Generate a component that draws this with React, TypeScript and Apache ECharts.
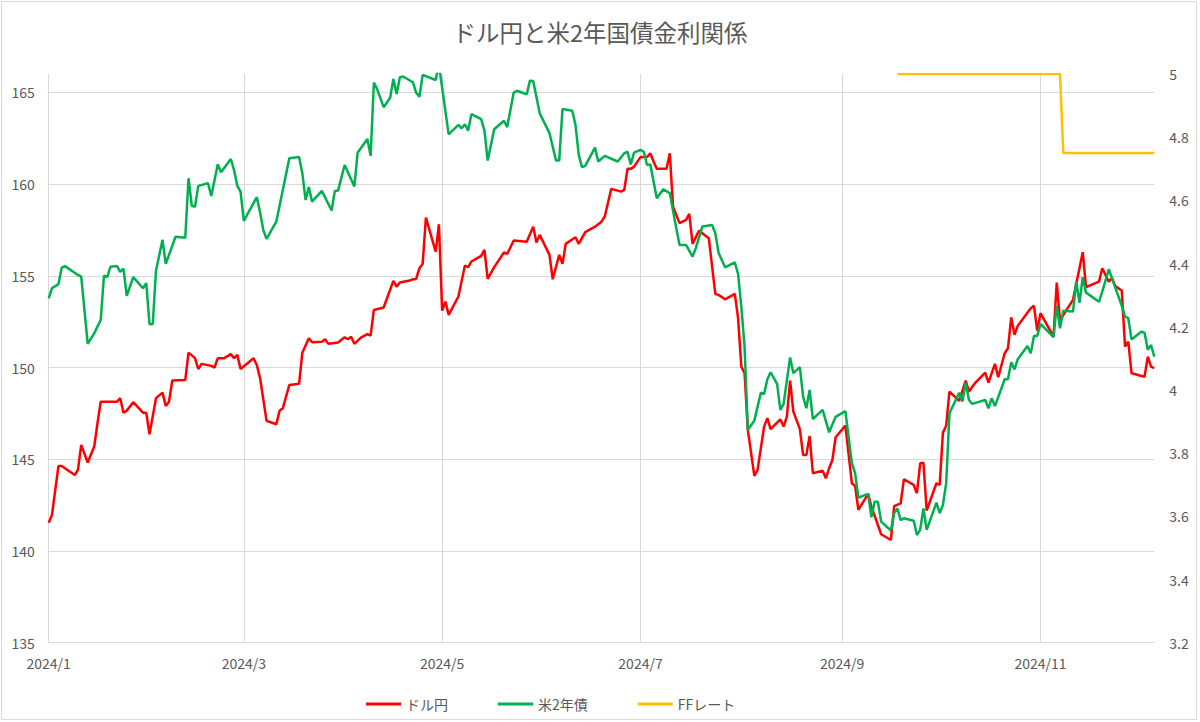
import React, { useEffect, useRef } from "react";
import * as echarts from "echarts";

const TITLE = "ドル円と米2年国債金利関係";
const SERIES_NAMES = ["ドル円", "米2年債", "FFレート"];
const COLORS = ["#FF0000", "#00B050", "#FFC000"];

// ドル円 (left axis)
const usdJpyDates = [
  "01-01","01-02","01-04","01-05","01-09","01-10","01-11","01-13","01-15","01-16","01-17","01-22","01-23","01-24","01-25","01-27","01-30","01-31",
  "02-01","02-03","02-05","02-06","02-07","02-08","02-12","02-13","02-15","02-16","02-17","02-20","02-21","02-22","02-24","02-26","02-27","02-28","02-29",
  "03-04","03-05","03-06","03-08","03-11","03-12","03-13","03-15","03-18","03-19","03-21","03-22","03-25","03-26","03-27","03-30",
  "04-01","04-02","04-03","04-04","04-06","04-08","04-09","04-10","04-13","04-16","04-17","04-18","04-21","04-22","04-23","04-24","04-25","04-26","04-29","04-30",
  "05-01","05-02","05-03","05-06","05-08","05-09","05-10","05-13","05-14","05-15","05-17","05-20","05-21","05-23","05-27","05-29","05-30","05-31",
  "06-03","06-04","06-06","06-07","06-08","06-11","06-12","06-14","06-17","06-19","06-20","06-22","06-25","06-26","06-27","06-28","06-29",
  "07-01","07-03","07-04","07-05","07-06","07-09","07-10","07-11","07-13","07-15","07-16","07-17","07-19","07-22","07-24","07-25","07-27","07-30","07-31",
  "08-01","08-02","08-03","08-05","08-06","08-08","08-09","08-10","08-13","08-14","08-15","08-16","08-17","08-19","08-20","08-21","08-22","08-23","08-26","08-27","08-28","08-29","08-30",
  "09-02","09-04","09-05","09-06","09-09","09-10","09-13","09-16","09-17","09-19","09-20","09-23","09-24","09-25","09-26","09-27","09-30",
  "10-01","10-02","10-03","10-04","10-07","10-09","10-10","10-12","10-15","10-16","10-18","10-19","10-21","10-22","10-23","10-24","10-25","10-29","10-30","10-31",
  "11-01","11-05","11-06","11-07","11-09","11-11","11-14","11-15","11-19","11-20","11-22","11-23","11-24","11-26","11-27","11-28","11-29",
  "12-03","12-04","12-05","12-06",
];
const usdJpyValues = [
  141.54,141.96,144.63,144.63,144.14,144.42,145.78,144.82,145.69,146.96,148.14,148.14,148.33,147.54,147.65,148.11,147.54,147.54,
  146.36,148.33,148.63,147.91,148.14,149.29,149.32,150.81,150.51,149.92,150.2,150.09,150.0,150.51,150.51,150.73,150.51,150.69,149.92,
  150.51,150.14,149.42,147.09,146.91,147.65,147.78,149.05,149.11,150.81,151.6,151.38,151.41,151.54,151.29,151.36,
  151.65,151.54,151.68,151.29,151.63,151.82,151.74,153.14,153.27,154.72,154.41,154.63,154.74,154.81,154.83,155.41,155.65,158.17,156.32,157.81,
  153.1,153.59,152.87,153.87,155.56,155.47,155.78,156.09,156.41,154.83,155.47,156.27,156.19,156.92,156.86,157.68,156.81,157.23,
  156.14,154.81,156.14,155.65,156.74,157.1,156.74,157.38,157.68,157.95,158.23,159.74,159.59,159.68,160.83,160.83,160.95,
  161.47,161.47,161.68,161.23,160.83,160.83,161.68,158.77,157.87,158.05,158.37,156.74,157.46,157.05,154.01,153.96,153.72,154.01,152.69,
  150.05,149.69,146.6,144.09,144.42,146.78,147.24,146.64,147.18,146.78,147.32,149.29,147.6,146.64,145.23,145.23,146.27,144.24,144.38,143.96,144.51,144.96,146.2,
  146.83,143.69,143.54,142.24,143.11,142.42,140.91,140.6,142.45,142.6,143.91,143.6,143.15,144.78,144.81,142.2,143.69,
  143.6,146.45,146.83,148.69,148.18,149.29,148.69,149.18,149.72,149.18,150.2,149.47,150.78,151.05,152.74,151.78,152.27,153.23,153.36,152.01,
  152.96,151.68,154.63,152.56,153.14,153.69,156.29,154.38,154.68,155.41,154.68,154.87,154.45,154.19,151.14,151.41,149.69,
  149.5,150.59,150.05,149.96,
];

// 米2年債 (right axis)
const ust2yDates = [
  "01-01","01-02","01-04","01-05","01-06","01-10","01-11","01-13","01-15","01-17","01-18","01-19","01-20","01-22","01-23","01-24","01-25","01-27","01-30","01-31",
  "02-01","02-02","02-03","02-05","02-06","02-09","02-12","02-13","02-14","02-15","02-16","02-19","02-20","02-22","02-23","02-26","02-27","02-28","02-29",
  "03-01","03-05","03-06","03-07","03-08","03-11","03-13","03-15","03-18","03-19","03-20","03-21","03-22","03-25","03-28","03-29","03-30",
  "04-01","04-04","04-05","04-08","04-09","04-10","04-11","04-13","04-15","04-16","04-17","04-18","04-19","04-22","04-23","04-24","04-25","04-29","04-30",
  "05-03","05-06","05-07","05-08","05-09","05-10","05-13","05-14","05-15","05-17","05-20","05-21","05-23","05-24","05-27","05-28","05-29","05-31",
  "06-03","06-05","06-06","06-07","06-10","06-11","06-12","06-13","06-14","06-17","06-18","06-20","06-24","06-26","06-27","06-28","06-29",
  "07-01","07-02","07-03","07-04","07-06","07-08","07-10","07-12","07-13","07-15","07-17","07-18","07-20","07-23","07-24","07-25","07-27","07-30","07-31",
  "08-01","08-02","08-03","08-05","08-07","08-08","08-09","08-10","08-12","08-13","08-14","08-16","08-17","08-19","08-20","08-21","08-22","08-23","08-26","08-28","08-30",
  "09-02","09-04","09-05","09-06","09-09","09-10","09-11","09-12","09-13","09-16","09-17","09-18","09-19","09-20","09-23","09-24","09-25","09-26","09-27","09-30",
  "10-01","10-02","10-03","10-04","10-07","10-08","10-09","10-10","10-11","10-15","10-16","10-17","10-18","10-21","10-22","10-23","10-24","10-25","10-28","10-29","10-30","10-31",
  "11-01","11-05","11-06","11-07","11-08","11-11","11-12","11-13","11-14","11-15","11-19","11-20","11-22","11-26","11-27","11-28","11-29",
  "12-02","12-03","12-04","12-05","12-06",
];
const ust2yValues = [
  4.29,4.322,4.335,4.387,4.392,4.364,4.359,4.146,4.179,4.222,4.362,4.357,4.39,4.392,4.374,4.384,4.298,4.357,4.322,4.338,
  4.208,4.209,4.378,4.475,4.399,4.485,4.482,4.67,4.583,4.58,4.646,4.654,4.614,4.714,4.689,4.731,4.696,4.646,4.628,
  4.535,4.61,4.562,4.506,4.478,4.533,4.633,4.733,4.737,4.686,4.601,4.642,4.596,4.63,4.568,4.63,4.631,
  4.712,4.644,4.751,4.794,4.741,4.973,4.952,4.895,4.925,4.984,4.937,4.99,4.992,4.974,4.941,4.928,4.997,4.981,5.03,
  4.809,4.839,4.828,4.841,4.821,4.873,4.857,4.821,4.726,4.825,4.852,4.832,4.941,4.947,4.936,4.979,4.978,4.876,
  4.813,4.726,4.726,4.889,4.884,4.839,4.744,4.705,4.709,4.767,4.723,4.741,4.723,4.749,4.754,4.714,4.751,
  4.76,4.754,4.712,4.714,4.607,4.635,4.623,4.512,4.459,4.459,4.422,4.449,4.517,4.522,4.496,4.434,4.388,4.404,4.367,
  4.264,4.137,3.873,3.903,3.991,3.987,4.034,4.056,4.019,3.937,3.956,4.103,4.053,4.072,3.979,3.942,4.0,3.908,3.937,3.866,3.915,
  3.933,3.768,3.736,3.659,3.671,3.597,3.646,3.646,3.583,3.555,3.61,3.625,3.588,3.594,3.586,3.541,3.557,3.625,3.557,3.643,
  3.61,3.636,3.705,3.926,3.991,3.963,4.023,3.968,3.956,3.968,3.942,3.974,3.949,4.034,4.034,4.088,4.065,4.097,4.139,4.116,4.171,4.171,
  4.209,4.167,4.266,4.195,4.251,4.248,4.343,4.276,4.357,4.308,4.279,4.311,4.382,4.266,4.232,4.227,4.16,
  4.184,4.181,4.127,4.142,4.105,
];

// FFレート (right axis, upper bound)
const ffDates = ["09-18", "11-07", "11-08", "12-06"];
const ffValues = [5.0, 5.0, 4.75, 4.75];

const YEAR = 2024;
const X_MIN = "01-01";
const X_MAX = "12-06";
const xTickDates = ["01-01", "03-01", "05-01", "07-01", "09-01", "11-01"];
const xTickLabels = ["2024/1", "2024/3", "2024/5", "2024/7", "2024/9", "2024/11"];

const LEFT_MIN = 135;
const LEFT_MAX = 166;
const LEFT_STEP = 5;
const RIGHT_MIN = 3.2;
const RIGHT_MAX = 5;
const RIGHT_STEP = 0.2;

const toTime = (md: string) => {
  const [m, d] = md.split("-").map(Number);
  return new Date(YEAR, m - 1, d).getTime();
};
const pairs = (dates: string[], values: number[]) =>
  dates.map((d, i) => [toTime(d), values[i]]);

const FONT = "'Noto Sans CJK JP', 'Noto Sans', sans-serif";
const TEXT_COLOR = "#595959";
const GRID_COLOR = "#D9D9D9";

export default function App() {
  const ref = useRef<HTMLDivElement>(null);

  useEffect(() => {
    if (!ref.current) return;
    const chart = echarts.init(ref.current, undefined, { renderer: "svg" });
    const tickTimes = xTickDates.map(toTime);
    const leftLineCount = Math.floor((LEFT_MAX - LEFT_MIN) / LEFT_STEP) + 2;
    const leftColors = Array.from({ length: leftLineCount }, (_, i) =>
      i === leftLineCount - 1 ? "rgba(0,0,0,0)" : GRID_COLOR
    );

    chart.setOption({
      animation: false,
      backgroundColor: "#FFFFFF",
      textStyle: { fontFamily: FONT },
      title: {
        text: TITLE,
        left: "center",
        top: 15,
        textStyle: { color: TEXT_COLOR, fontSize: 23.5, fontWeight: "normal", fontFamily: FONT },
      },
      legend: {
        data: SERIES_NAMES,
        left: 361,
        top: 692,
        icon: "rect",
        itemWidth: 35,
        itemHeight: 3,
        itemGap: 50,
        textStyle: { color: TEXT_COLOR, fontSize: 14, fontFamily: FONT },
      },
      grid: {
        left: 48.7,
        right: 45.7,
        top: 74,
        bottom: 79.3,
        containLabel: false,
      },
      xAxis: {
        type: "value",
        min: toTime(X_MIN),
        max: toTime(X_MAX),
        axisLine: { show: false },
        axisTick: { show: false, customValues: tickTimes },
        axisLabel: {
          customValues: tickTimes,
          color: TEXT_COLOR,
          fontSize: 14,
          fontFamily: FONT,
          margin: 13,
          showMinLabel: true,
          showMaxLabel: true,
          formatter: (v: number) => {
            let best = 0;
            tickTimes.forEach((t, i) => {
              if (Math.abs(t - v) < Math.abs(tickTimes[best] - v)) best = i;
            });
            return xTickLabels[best];
          },
        },
        splitLine: { show: true, lineStyle: { color: GRID_COLOR, width: 1 } },
      },
      yAxis: [
        {
          type: "value",
          position: "left",
          min: LEFT_MIN,
          max: LEFT_MAX,
          interval: LEFT_STEP,
          axisLine: { show: false },
          axisTick: { show: false },
          axisLabel: { color: TEXT_COLOR, fontSize: 14, fontFamily: FONT, margin: 14, showMaxLabel: false },
          splitLine: { show: true, showMaxLine: false, lineStyle: { color: leftColors, width: 1 } },
        },
        {
          type: "value",
          position: "right",
          min: RIGHT_MIN,
          max: RIGHT_MAX,
          interval: RIGHT_STEP,
          axisLine: { show: false },
          axisTick: { show: false },
          axisLabel: { color: TEXT_COLOR, fontSize: 14, fontFamily: FONT, margin: 15 },
          splitLine: { show: false },
        },
      ],
      series: [
        {
          name: SERIES_NAMES[0],
          type: "line",
          yAxisIndex: 0,
          data: pairs(usdJpyDates, usdJpyValues),
          showSymbol: false,
          symbol: "none",
          lineStyle: { color: COLORS[0], width: 2.5 },
          itemStyle: { color: COLORS[0] },
        },
        {
          name: SERIES_NAMES[1],
          type: "line",
          yAxisIndex: 1,
          data: pairs(ust2yDates, ust2yValues),
          showSymbol: false,
          symbol: "none",
          lineStyle: { color: COLORS[1], width: 2.5 },
          itemStyle: { color: COLORS[1] },
        },
        {
          name: SERIES_NAMES[2],
          type: "line",
          yAxisIndex: 1,
          data: pairs(ffDates, ffValues),
          showSymbol: false,
          symbol: "none",
          lineStyle: { color: COLORS[2], width: 2.5 },
          itemStyle: { color: COLORS[2] },
        },
      ],
      graphic: [
        {
          type: "rect",
          silent: true,
          shape: { x: 1.5, y: 1.5, width: 1195, height: 718 },
          style: { fill: "none", stroke: GRID_COLOR, lineWidth: 1 },
        },
      ],
    });

    return () => chart.dispose();
  }, []);

  return (
    <div
      ref={ref}
      style={{ position: "absolute", left: 0, top: 0, width: 1200, height: 722, background: "#fff" }}
    />
  );
}
